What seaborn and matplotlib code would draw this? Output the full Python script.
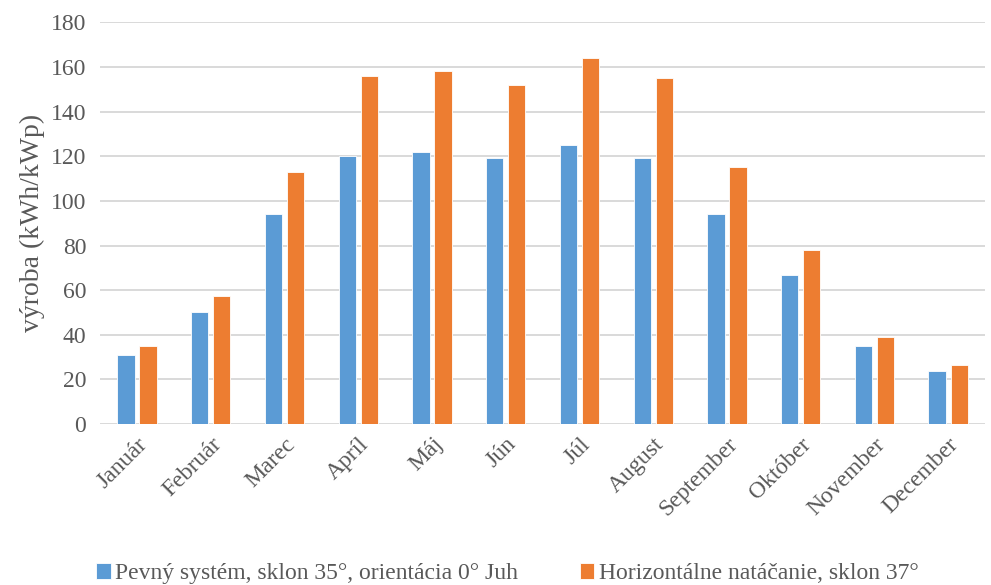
import matplotlib
matplotlib.use("Agg")
import matplotlib.pyplot as plt
import seaborn as sns
import pandas as pd

months = ["Január", "Február", "Marec", "Apríl", "Máj", "Jún", "Júl",
          "August", "September", "Október", "November", "December"]
fixed_system = [31, 50, 94, 120, 122, 119, 125, 119, 94, 67, 35, 24]
horizontal_tracking = [35, 57.5, 113, 156, 158, 152, 164, 155, 115, 78, 39, 26.5]
series_names = ["Pevný systém, sklon 35°, orientácia 0° Juh",
                "Horizontálne natáčanie, sklon 37°"]
colors = ["#5B9BD5", "#ED7D31"]

df = pd.DataFrame({
    "mesiac": months * 2,
    "vyroba": fixed_system + horizontal_tracking,
    "system": [series_names[0]] * len(months) + [series_names[1]] * len(months),
})

sns.set_style("white")
plt.rcParams["font.family"] = ["Liberation Serif", "DejaVu Serif"]
text_color = "#595959"

fig, ax = plt.subplots(figsize=(9.91, 5.85), dpi=100)
fig.subplots_adjust(left=0.101, right=0.994, top=0.962, bottom=0.275)

sns.barplot(data=df, x="mesiac", y="vyroba", hue="system", order=months,
            hue_order=series_names, palette=colors, saturation=1,
            width=0.6, gap=0.22, edgecolor="white", linewidth=0.6,
            ax=ax, legend=True)

ax.set_ylim(0, 180)
ax.set_yticks(range(0, 181, 20))
ax.yaxis.grid(True, color="#D9D9D9", linewidth=1.4)
ax.set_axisbelow(True)
for s in ax.spines.values():
    s.set_visible(False)
ax.set_xlim(-0.5, len(months) - 0.5)
ax.tick_params(axis="both", length=0, colors=text_color, labelsize=17)
ax.tick_params(axis="y", pad=10)
ax.tick_params(axis="x", pad=7)
plt.setp(ax.get_xticklabels(), rotation=45, ha="right", rotation_mode="anchor")
ax.set_xlabel("")
ax.set_ylabel("výroba (kWh/kWp)", fontsize=20, color=text_color, labelpad=4)

handles, labels = ax.get_legend_handles_labels()
ax.get_legend().remove()
leg = fig.legend(handles, labels, loc="lower center", ncol=2, frameon=False,
                 bbox_to_anchor=(0.512, -0.035), fontsize=17,
                 handlelength=0.6, handleheight=0.7, handletextpad=0.2,
                 columnspacing=2.6)
for t in leg.get_texts():
    t.set_color(text_color)

fig.savefig("out.png", dpi=100)
